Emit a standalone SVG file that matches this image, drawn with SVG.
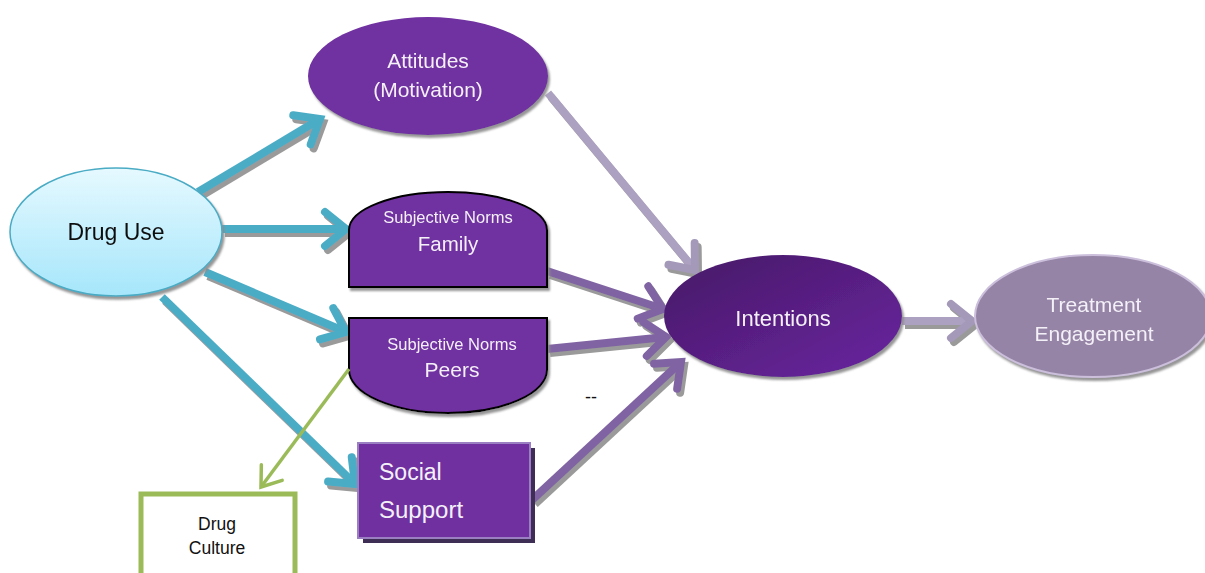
<svg xmlns="http://www.w3.org/2000/svg" width="1205" height="573" viewBox="0 0 1205 573">
<style>
  .t { font-family: "Liberation Sans", Arial, sans-serif; text-anchor: middle; }
  .w { fill: #f4f0f8; }
  .k { fill: #111; }
  .blue { stroke: #4bacc6; stroke-width: 8; fill: none; }
  .pur { stroke: #8064a2; stroke-width: 8; fill: none; }
  .lav { stroke: #ada1c2; stroke-width: 8; fill: none; }
  .grn { stroke: #9bbb59; stroke-width: 3.5; fill: none; }
</style>
<defs>
  <linearGradient id="gDrug" x1="0" y1="0" x2="0" y2="1">
    <stop offset="0" stop-color="#e6f9ff"/>
    <stop offset="1" stop-color="#a6e6fb"/>
  </linearGradient>
  <linearGradient id="gInt" x1="0" y1="0" x2="1" y2="1">
    <stop offset="0" stop-color="#461866"/>
    <stop offset="1" stop-color="#6a26a0"/>
  </linearGradient>
  <filter id="sh" x="-20%" y="-20%" width="140%" height="140%">
    <feDropShadow dx="2" dy="3" stdDeviation="0.8" flood-color="#8a8a8a" flood-opacity="0.9"/>
  </filter>
  <filter id="shl" x="-20%" y="-20%" width="140%" height="140%">
    <feDropShadow dx="3" dy="4" stdDeviation="0.6" flood-color="#9a9a9a" flood-opacity="1"/>
  </filter>
  <marker id="mBlue" markerUnits="userSpaceOnUse" viewBox="-30 -20 40 40" refX="0" refY="0" markerWidth="40" markerHeight="40" orient="auto" overflow="visible">
    <path d="M-21,-17 L0,0 L-21,17" fill="none" stroke="#4bacc6" stroke-width="8" stroke-linecap="round" stroke-linejoin="miter"/>
  </marker>
  <marker id="mPur" markerUnits="userSpaceOnUse" viewBox="-30 -20 40 40" refX="0" refY="0" markerWidth="40" markerHeight="40" orient="auto" overflow="visible">
    <path d="M-21,-17 L0,0 L-21,17" fill="none" stroke="#8064a2" stroke-width="8" stroke-linecap="round" stroke-linejoin="miter"/>
  </marker>
  <marker id="mLav" markerUnits="userSpaceOnUse" viewBox="-30 -20 40 40" refX="0" refY="0" markerWidth="40" markerHeight="40" orient="auto" overflow="visible">
    <path d="M-21,-17 L0,0 L-21,17" fill="none" stroke="#a499b9" stroke-width="8" stroke-linecap="round" stroke-linejoin="miter"/>
  </marker>
  <marker id="mGrn" markerUnits="userSpaceOnUse" viewBox="-30 -20 40 40" refX="0" refY="0" markerWidth="40" markerHeight="40" orient="auto" overflow="visible">
    <path d="M-18,-13 L0,0 L-18,13" fill="none" stroke="#9bbb59" stroke-width="3.5" stroke-linecap="round"/>
  </marker>
</defs>
<rect width="1205" height="573" fill="#ffffff"/>

<g id="connectors" filter="url(#shl)">
  <line class="blue" x1="198" y1="192" x2="320" y2="119" marker-end="url(#mBlue)"/>
  <line class="blue" x1="222" y1="229" x2="346" y2="229" marker-end="url(#mBlue)"/>
  <line class="blue" x1="205" y1="272" x2="346" y2="332" marker-end="url(#mBlue)"/>
  <line class="blue" x1="162" y1="297" x2="355" y2="484" marker-end="url(#mBlue)"/>
  <line class="lav" x1="548" y1="93" x2="695" y2="270" marker-end="url(#mLav)"/>
  <line class="pur" x1="547" y1="271" x2="663" y2="309" marker-end="url(#mPur)"/>
  <line class="pur" x1="547" y1="349" x2="666" y2="337" marker-end="url(#mPur)"/>
  <line class="pur" x1="532" y1="500" x2="681" y2="362" marker-end="url(#mPur)"/>
  <line class="lav" x1="902" y1="321" x2="972" y2="321" marker-end="url(#mLav)"/>
</g>

<g id="drug-use" filter="url(#sh)">
  <ellipse cx="116" cy="232" rx="106" ry="64" fill="url(#gDrug)" stroke="#4aabc4" stroke-width="1.5"/>
  <text class="t k" x="116" y="240" font-size="23">Drug Use</text>
</g>

<g id="attitudes" filter="url(#sh)">
  <ellipse cx="428" cy="76" rx="120" ry="59" fill="#7030a0"/>
  <text class="t w" x="428" y="68" font-size="21">Attitudes</text>
  <text class="t w" x="428" y="97" font-size="21">(Motivation)</text>
</g>

<g id="norms-family" filter="url(#sh)">
  <path d="M349,287 L349,230 A99,38 0 0 1 547,230 L547,287 Z" fill="#7030a0" stroke="#000" stroke-width="2"/>
  <text class="t w" x="448" y="223" font-size="16.5">Subjective Norms</text>
  <text class="t w" x="448" y="251" font-size="20.5">Family</text>
</g>

<g id="norms-peers" filter="url(#sh)">
  <path d="M349,318 L547,318 L547,370 A99,43 0 0 1 349,370 Z" fill="#7030a0" stroke="#000" stroke-width="2"/>
  <text class="t w" x="452" y="350" font-size="16.5">Subjective Norms</text>
  <text class="t w" x="452" y="377" font-size="21">Peers</text>
</g>

<g id="intentions" filter="url(#sh)">
  <ellipse cx="783" cy="316" rx="119" ry="61" fill="url(#gInt)"/>
  <text class="t w" x="783" y="326" font-size="22">Intentions</text>
</g>

<g id="treatment" filter="url(#sh)">
  <ellipse cx="1093" cy="316" rx="118" ry="61" fill="#9684a6" stroke="#cbbfdc" stroke-width="2"/>
  <text class="t w" x="1094" y="312" font-size="21">Treatment</text>
  <text class="t w" x="1094" y="341" font-size="21">Engagement</text>
</g>

<g id="social-support">
  <rect x="363" y="448" width="172" height="95" fill="#3e2d55"/>
  <rect x="358" y="443" width="172" height="95" fill="#7030a0" stroke="#9a80c2" stroke-width="2"/>
  <text x="379" y="480" font-size="23" fill="#f4f0f8" font-family="Liberation Sans, Arial, sans-serif">Social</text>
  <text x="379" y="518" font-size="24" fill="#f4f0f8" font-family="Liberation Sans, Arial, sans-serif">Support</text>
</g>

<g id="drug-culture">
  <rect x="141" y="494" width="154" height="84" fill="#ffffff" stroke="#9bbb59" stroke-width="5"/>
  <text class="t k" x="217" y="530" font-size="17.5">Drug</text>
  <text class="t k" x="217" y="554" font-size="17.5">Culture</text>
</g>

<g id="green-connector">
  <line class="grn" x1="349" y1="369" x2="261" y2="487" marker-end="url(#mGrn)"/>
</g>

<text class="t k" x="591" y="403" font-size="18">--</text>
</svg>
